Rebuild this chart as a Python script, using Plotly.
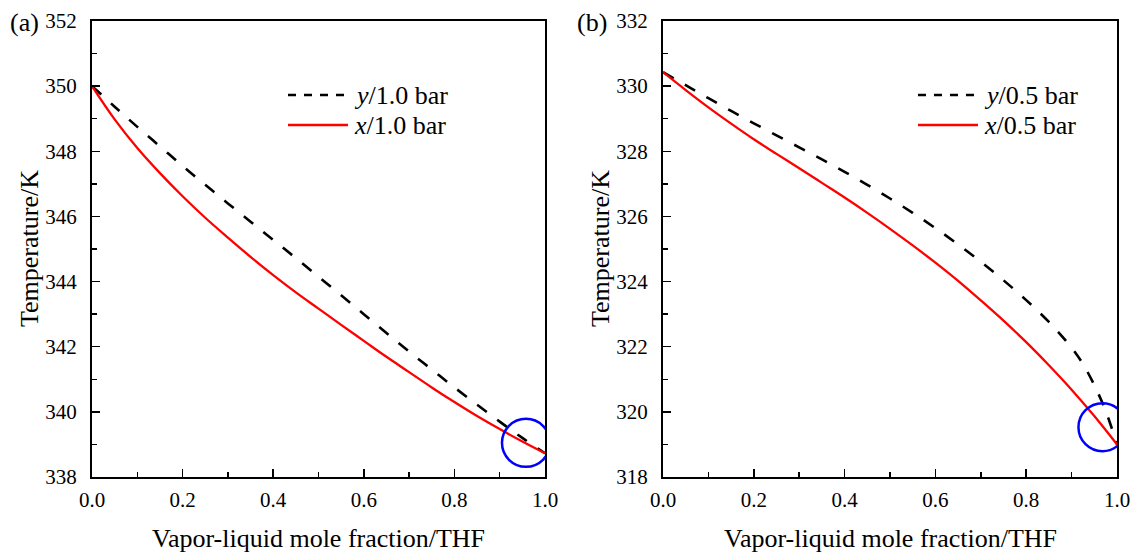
import plotly.graph_objects as go

# ---------------- data ----------------
x_frac = [0.0, 0.05, 0.1, 0.15, 0.2, 0.25, 0.3, 0.35, 0.4, 0.45, 0.5,
          0.55, 0.6, 0.65, 0.7, 0.75, 0.8, 0.85, 0.9, 0.95, 1.0]

# panel (a) 1.0 bar
a_x_liquid = [350.00, 348.98, 348.10, 347.33, 346.62, 345.96, 345.35, 344.76, 344.20, 343.67, 343.17,
              342.67, 342.18, 341.69, 341.22, 340.75, 340.30, 339.87, 339.47, 339.09, 338.73]
a_y_vapor = [350.00, 349.37, 348.75, 348.15, 347.55, 346.97, 346.40, 345.84, 345.28, 344.72, 344.15,
             343.58, 343.00, 342.42, 341.85, 341.30, 340.75, 340.22, 339.70, 339.20, 338.73]

# panel (b) 0.5 bar
b_x_liquid = [330.43, 329.88, 329.35, 328.85, 328.37, 327.92, 327.48, 327.03, 326.58, 326.11, 325.62,
              325.11, 324.58, 324.02, 323.42, 322.80, 322.14, 321.43, 320.68, 319.87, 319.00]
b_y_frac = [0.0, 0.05, 0.1, 0.15, 0.2, 0.25, 0.3, 0.35, 0.4, 0.45, 0.5,
            0.55, 0.6, 0.65, 0.7, 0.75, 0.8, 0.85, 0.9, 0.925, 0.95, 0.975, 1.0]
b_y_vapor = [330.43, 330.03, 329.63, 329.24, 328.86, 328.49, 328.12, 327.75, 327.37, 326.97, 326.55,
             326.11, 325.64, 325.14, 324.61, 324.04, 323.43, 322.76, 321.97, 321.47, 320.82, 320.03, 319.00]

a_range = [338, 352]
b_range = [318, 332]
x_ticks = [0.0, 0.2, 0.4, 0.6, 0.8, 1.0]
a_ticks = [338, 340, 342, 344, 346, 348, 350, 352]
b_ticks = [318, 320, 322, 324, 326, 328, 330, 332]

x_title = "Vapor-liquid mole fraction/THF"
y_title = "Temperature/K"
a_legend = ["<i>y</i>/1.0 bar", "<i>x</i>/1.0 bar"]
b_legend = ["<i>y</i>/0.5 bar", "<i>x</i>/0.5 bar"]
panel_labels = ["(a)", "(b)"]

# highlight circles (centre mole fraction, centre temperature)
a_circle = (0.958, 339.05)
b_circle = (0.968, 319.53)

# ---------------- style / layout ----------------
FONT = "Liberation Serif, Times New Roman, serif"
W, H = 1137, 552
RED = "#ff0000"
BLUE = "#0000ff"
TOP, BOT = 21, 477
A_L, A_R = 92, 545
B_L, B_R = 663, 1117
dom_a = [A_L / W, A_R / W]
dom_b = [B_L / W, B_R / W]
dom_y = [1 - BOT / H, 1 - TOP / H]
circ_r = 24.0

fig = go.Figure()

fig.add_trace(go.Scatter(x=x_frac, y=a_y_vapor, mode="lines",
                         line=dict(color="black", width=2.6, dash="12px,13px", shape="spline"),
                         xaxis="x", yaxis="y", showlegend=False, name="y/1.0 bar"))
fig.add_trace(go.Scatter(x=x_frac, y=a_x_liquid, mode="lines",
                         line=dict(color=RED, width=2.3, shape="spline"),
                         xaxis="x", yaxis="y", showlegend=False, name="x/1.0 bar"))
fig.add_trace(go.Scatter(x=b_y_frac, y=b_y_vapor, mode="lines",
                         line=dict(color="black", width=2.6, dash="12px,13px", shape="spline"),
                         xaxis="x2", yaxis="y2", showlegend=False, name="y/0.5 bar"))
fig.add_trace(go.Scatter(x=x_frac, y=b_x_liquid, mode="lines",
                         line=dict(color=RED, width=2.3, shape="spline"),
                         xaxis="x2", yaxis="y2", showlegend=False, name="x/0.5 bar"))


def xaxis_cfg(domain, anchor):
    return dict(domain=domain, anchor=anchor, range=[0, 1], tickvals=x_ticks, tickformat=".1f",
                ticks="inside", ticklen=8, tickwidth=1.5, tickcolor="black",
                minor=dict(dtick=0.1, ticks="inside", ticklen=5, tickwidth=1.5, tickcolor="black"),
                showline=True, linecolor="black", linewidth=2, mirror=True, showgrid=False, zeroline=False,
                tickfont=dict(family=FONT, size=21, color="black"), ticklabelstandoff=3,
                automargin=False, fixedrange=True)


def yaxis_cfg(domain, anchor, rng, tv):
    return dict(domain=domain, anchor=anchor, range=rng, tickvals=tv,
                ticks="inside", ticklen=8, tickwidth=1.5, tickcolor="black",
                minor=dict(dtick=1, ticks="inside", ticklen=5, tickwidth=1.5, tickcolor="black"),
                showline=True, linecolor="black", linewidth=2, mirror=True, showgrid=False, zeroline=False,
                tickfont=dict(family=FONT, size=21, color="black"), ticklabelstandoff=9,
                automargin=False, fixedrange=True)


fig.update_layout(
    width=W, height=H, margin=dict(l=0, r=0, t=0, b=0, pad=0), autosize=False,
    paper_bgcolor="white", plot_bgcolor="white",
    font=dict(family=FONT, color="black"),
    xaxis=xaxis_cfg(dom_a, "y"), yaxis=yaxis_cfg(dom_y, "x", a_range, a_ticks),
    xaxis2=xaxis_cfg(dom_b, "y2"), yaxis2=yaxis_cfg(dom_y, "x2", b_range, b_ticks),
)

shapes = []
annotations = []
panels = [
    ("x", "y", a_range, a_circle, a_legend, A_L, A_R, 288, 348, 352, 8, panel_labels[0]),
    ("x2", "y2", b_range, b_circle, b_legend, B_L, B_R, 918, 978, 982, 575, panel_labels[1]),
]
for (xr, yr, rng, circ, leg, L, R, lx0, lx1, tx, plx, plab) in panels:
    wpx = R - L
    px_per_T = (BOT - TOP) / (rng[1] - rng[0])
    cx, cy = circ
    rx = circ_r / wpx
    ry = circ_r / px_per_T
    shapes.append(dict(type="circle", xref=xr, yref=yr, x0=cx - rx, x1=cx + rx, y0=cy - ry, y1=cy + ry,
                       line=dict(color=BLUE, width=2.5)))
    for i, (txt, dash, col, lw) in enumerate(zip(leg, ["8px,8px", "solid"], ["black", RED], [2.6, 2.3])):
        yrow = 1 - ((95 + 30 * i) - TOP) / (BOT - TOP)
        shapes.append(dict(type="line", xref=xr + " domain", yref=yr + " domain",
                           x0=(lx0 - L) / wpx, x1=(lx1 - L) / wpx, y0=yrow, y1=yrow,
                           line=dict(color=col, width=lw, dash=dash)))
        annotations.append(dict(xref=xr + " domain", yref=yr + " domain", x=(tx - L) / wpx, y=yrow,
                                text=txt, showarrow=False, xanchor="left", yanchor="middle",
                                font=dict(family=FONT, size=26, color="black")))
    # axis titles
    annotations.append(dict(xref="paper", yref="paper", x=(L + R) / 2 / W, y=1 - 538 / H, text=x_title,
                            showarrow=False, xanchor="center", yanchor="middle",
                            font=dict(family=FONT, size=26, color="black")))
    annotations.append(dict(xref="paper", yref="paper", x=(L - 63) / W, y=1 - (TOP + BOT) / 2 / H, text=y_title,
                            showarrow=False, xanchor="center", yanchor="middle", textangle=-90,
                            font=dict(family=FONT, size=26, color="black")))
    # panel label
    annotations.append(dict(xref="paper", yref="paper", x=plx / W, y=1 - 23 / H, text=plab, showarrow=False,
                            xanchor="left", yanchor="middle", font=dict(family=FONT, size=26, color="black")))

fig.update_layout(shapes=shapes, annotations=annotations)
fig.write_html("out.html", config={"displayModeBar": False, "staticPlot": True},
               post_script="document.body.style.margin='0px';document.body.style.padding='0px';")
